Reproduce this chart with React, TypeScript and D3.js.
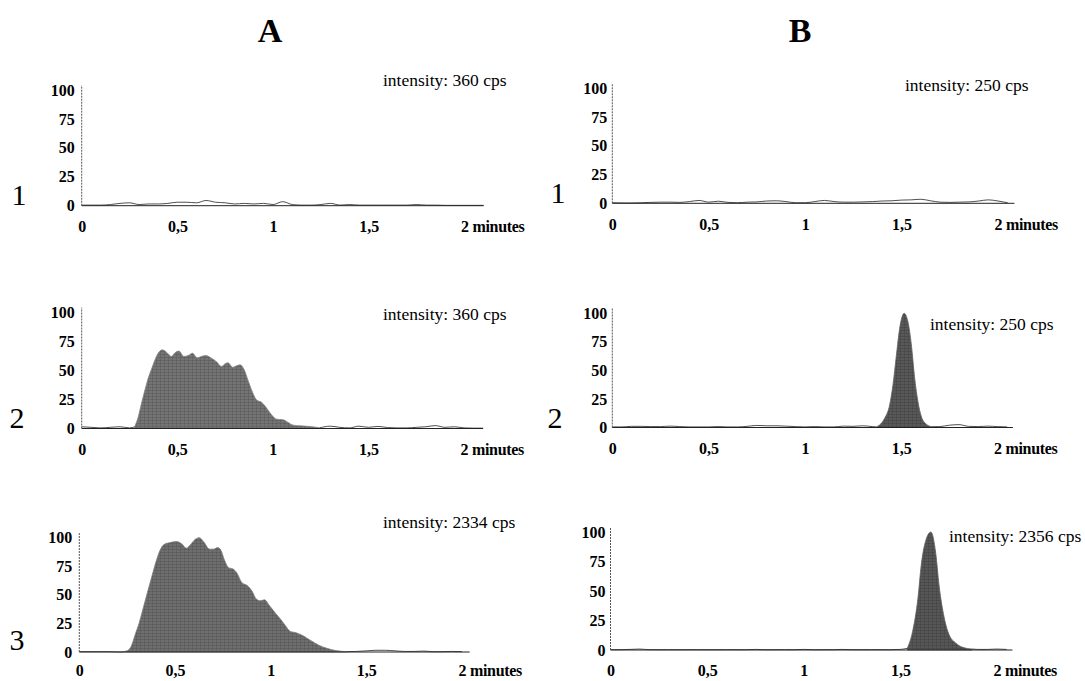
import React, { useEffect, useRef } from 'react';
import * as d3 from 'd3';

// time grid (minutes) shared by the baseline noise traces
const gridTimes = [0, 0.05, 0.1, 0.15, 0.2, 0.25, 0.3, 0.35, 0.4, 0.45, 0.5, 0.55, 0.6, 0.65, 0.7, 0.75, 0.8, 0.85, 0.9, 0.95,
  1, 1.05, 1.1, 1.15, 1.2, 1.25, 1.3, 1.35, 1.4, 1.45, 1.5, 1.55, 1.6, 1.65, 1.7, 1.75, 1.8, 1.85, 1.9, 1.95, 2, 2.05, 2.1];

// baseline noise (% of full scale), null where the peak trace takes over
const noiseA1 = [0.5, 0.5, 0.5, 1, 2, 2.5, 1, 1.5, 1.5, 2, 3, 3, 2.5, 4.5, 3, 2.5, 1.5, 2, 1.5, 2,
  1, 3.5, 1, 0.5, 0.5, 1, 2, 0.5, 1, 0.5, 0.5, 0.5, 0.5, 0.5, 0.5, 1, 0.5, 0.5, 0.3, 0.3, 0.3, 0.3, 0.3];
const noiseB1 = [0.5, 0.3, 0.3, 0.5, 0.8, 1, 1, 0.8, 1.5, 2.5, 1, 1.8, 0.8, 0.5, 1, 1.2, 2, 2.2, 1.5, 0.5,
  0.5, 1.5, 2.5, 1.5, 1, 1, 1.2, 1.5, 2, 2.2, 2.8, 3, 3.5, 2.2, 1, 0.8, 1, 1.2, 2, 3, 2, 0.5, 0.3];
const noiseA2 = [1.5, 1, 0.5, 1, 1.5, 0.5, null, null, null, null, null, null, null, null, null, null, null, null, null, null,
  null, null, null, null, null, null, 2, 1, 0.5, 2, 1, 1.8, 0.8, 0.5, 0.5, 1, 1.5, 2.5, 1, 1.5, 0.5, 0.3, 0.3];
const noiseB2 = [0.5, 0.5, 1, 1, 0.8, 0.8, 1.2, 0.8, 0.5, 0.5, 0.5, 0.8, 0.5, 0.5, 1, 1.8, 1.5, 1.5, 1.2, 0.8,
  0.5, 0.8, 0.5, 0.5, 1.2, 1, 1.5, 0.8, null, null, null, null, null, null, 0.8, 2, 2.5, 1, 0.8, 1.2, 0.8, 0.5, 0.3];
const noiseA3 = [0.3, 0.3, 0.3, 0.3, null, null, null, null, null, null, null, null, null, null, null, null, null, null, null, null,
  null, null, null, null, null, null, null, null, null, 0.5, 1, 1.5, 1.5, 1, 0.5, 0.5, 0.8, 0.3, 0.3, 0.5, 0.3, 0.3, 0.3];
const noiseB3 = [0.3, 0.3, 0.5, 0.8, 0.3, 0.3, 0.3, 0.3, 0.3, 0.3, 0.3, 0.3, 0.3, 0.3, 0.3, 0.5, 0.3, 0.3, 0.3, 0.3,
  0.5, 0.3, 0.3, 0.3, 0.5, 0.3, 0.3, 0.3, 0.3, 0.3, 0.5, null, null, null, null, null, null, null, 0.5, 0.5, 0.8, 0.5, 0.3];

// chromatographic peaks
const peakA2Times = [0.277, 0.295, 0.312, 0.33, 0.347, 0.365, 0.382, 0.4, 0.422, 0.443, 0.47, 0.487, 0.509, 0.534, 0.557, 0.58,
  0.604, 0.626, 0.649, 0.679, 0.708, 0.731, 0.749, 0.766, 0.789, 0.806, 0.827, 0.848, 0.871, 0.894, 0.915, 0.941, 0.967,
  0.993, 1.019, 1.054, 1.08, 1.106, 1.141, 1.194, 1.246];
const peakA2Values = [1.4, 9.5, 21, 32.6, 42.7, 51, 58.5, 64.8, 67.7, 65.7, 62, 65, 66.6, 62, 62.8, 64.8,
  60.8, 62, 62.8, 60.5, 57, 53.3, 55.6, 56.5, 52.7, 53.6, 54.8, 51.3, 41, 31, 24.5, 22.5, 17.6,
  11.8, 8, 7.5, 5.2, 2.9, 2.3, 1.7, 0.6];

const peakA3Times = [0.212, 0.247, 0.274, 0.291, 0.314, 0.335, 0.356, 0.379, 0.401, 0.422, 0.44, 0.474, 0.509, 0.536, 0.559,
  0.58, 0.606, 0.628, 0.649, 0.681, 0.702, 0.723, 0.74, 0.758, 0.781, 0.803, 0.824, 0.85, 0.876, 0.902, 0.925, 0.946,
  0.968, 0.994, 1.024, 1.05, 1.076, 1.102, 1.129, 1.164, 1.207, 1.251, 1.294, 1.346, 1.398];
const peakA3Values = [0, 0.9, 6, 14.7, 26, 39, 52, 66, 79, 89, 93.7, 95.7, 96.6, 94.5, 90.8,
  93.7, 98.6, 100, 96.6, 90, 90, 91.4, 89, 80.7, 73.6, 72.7, 69, 60.6, 58.3, 53.4, 46.3, 44.8,
  45.7, 40.5, 34.2, 29, 23.3, 18, 17, 14.7, 10.3, 6, 3.2, 1.1, 0.3];

const peakB2Times = [1.37, 1.388, 1.414, 1.44, 1.457, 1.475, 1.492, 1.515, 1.535, 1.553, 1.57, 1.587, 1.605, 1.631, 1.657];
const peakB2Values = [0.5, 2.2, 8, 19.7, 37, 63, 86.6, 99.7, 92.4, 72, 43, 22.5, 9.4, 2.8, 0.7];

const peakB3Times = [1.536, 1.563, 1.591, 1.608, 1.63, 1.658, 1.683, 1.7, 1.726, 1.752, 1.786, 1.819, 1.871];
const peakB3Values = [1.4, 15.5, 44, 72, 92, 100, 82, 55, 28, 13, 6, 2.5, 0.8];

const yTicks = [0, 25, 50, 75, 100];
const xTicks = [0, 0.5, 1, 1.5, 2];
const xTickLabels = ['0', '0,5', '1', '1,5', '2 minutes'];
const columnTitles = ['A', 'B'];
const rowTitles = ['1', '2', '3'];
const intensities = ['intensity: 360 cps', 'intensity: 250 cps', 'intensity: 360 cps', 'intensity: 250 cps',
  'intensity: 2334 cps', 'intensity: 2356 cps'];

const serif = '"Liberation Serif", "Times New Roman", serif';

const panels = [
  { noise: noiseA1, pt: [], pv: [], fill: '#737373', x0: 81.7, x2: 464.5, xEnd: 2.1, yB: 205.7, yT: 90, yPad: 7, xPad: 15, text: intensities[0], tx: 383, ty: 86, row: rowTitles[0], rx: 19, ry: 205 },
  { noise: noiseB1, pt: [], pv: [], fill: '#5a5a5a', x0: 612.3, x2: 998, xEnd: 2.085, yB: 203.3, yT: 88.3, yPad: 5, xPad: 15, text: intensities[1], tx: 905, ty: 91, row: rowTitles[0], rx: 558, ry: 203 },
  { noise: noiseA2, pt: peakA2Times, pv: peakA2Values, fill: '#747474', x0: 81.7, x2: 464, xEnd: 2.1, yB: 428.5, yT: 312.3, yPad: 7, xPad: 15, text: intensities[2], tx: 383, ty: 320, row: rowTitles[1], rx: 17, ry: 428 },
  { noise: noiseB2, pt: peakB2Times, pv: peakB2Values, fill: '#585858', x0: 612.3, x2: 997.5, xEnd: 2.08, yB: 427.5, yT: 313, yPad: 5, xPad: 15, text: intensities[3], tx: 930, ty: 330, row: rowTitles[1], rx: 555, ry: 428 },
  { noise: noiseA3, pt: peakA3Times, pv: peakA3Values, fill: '#6e6e6e', x0: 79.3, x2: 462, xEnd: 2.04, yB: 652, yT: 537.7, yPad: 7, xPad: 13, text: intensities[4], tx: 383, ty: 528, row: rowTitles[2], rx: 17, ry: 650 },
  { noise: noiseB3, pt: peakB3Times, pv: peakB3Values, fill: '#565656', x0: 610.5, x2: 997, xEnd: 2.08, yB: 650, yT: 532, yPad: 5, xPad: 15, text: intensities[5], tx: 949, ty: 542, row: null, rx: 0, ry: 0 },
];

function draw(node: SVGSVGElement) {
  const svg = d3.select(node);
  svg.selectAll('*').remove();
  const defs = svg.append('defs');

  svg.selectAll('text.title')
    .data(columnTitles)
    .enter()
    .append('text')
    .attr('class', 'title')
    .attr('x', (d, i) => (i === 0 ? 270 : 800))
    .attr('y', 42)
    .attr('text-anchor', 'middle')
    .attr('font-family', serif)
    .attr('font-weight', 'bold')
    .attr('font-size', 34)
    .text(d => d);

  panels.forEach((p, pi) => {
    const x = d3.scaleLinear().domain([0, 2]).range([p.x0, p.x2]);
    const y = d3.scaleLinear().domain([0, 100]).range([p.yB, p.yT]);
    const g = svg.append('g');

    // scanned-print look: grey fill with a faint crosshatch
    const pat = defs.append('pattern')
      .attr('id', 'fill' + pi)
      .attr('patternUnits', 'userSpaceOnUse')
      .attr('width', 4).attr('height', 3);
    pat.append('rect').attr('width', 4).attr('height', 3).attr('fill', p.fill);
    pat.append('rect').attr('width', 4).attr('height', 1).attr('fill', '#000').attr('opacity', 0.12);
    pat.append('rect').attr('width', 1).attr('height', 3).attr('fill', '#000').attr('opacity', 0.1);

    // trace: noise outside the peak, peak inside
    const pts: [number, number][] = gridTimes
      .map((t, i) => [t, p.noise[i]] as [number, number | null])
      .filter(d => d[1] !== null && d[0] <= p.xEnd) as [number, number][];
    const peak: [number, number][] = p.pt.map((t, i) => [t, p.pv[i]]);
    const line = d3.line<[number, number]>().x(d => x(d[0])).y(d => y(d[1])).curve(d3.curveMonotoneX);

    if (peak.length) {
      const area = d3.area<[number, number]>().x(d => x(d[0])).y0(y(0)).y1(d => y(d[1])).curve(d3.curveMonotoneX);
      g.append('path')
        .attr('d', area(peak))
        .attr('fill', `url(#fill${pi})`)
        .attr('stroke', d3.color(p.fill)!.brighter(0.3).toString())
        .attr('stroke-width', 0.8);
      const before = pts.filter(d => d[0] <= peak[0][0]).concat([peak[0]]);
      const after = [peak[peak.length - 1]].concat(pts.filter(d => d[0] >= peak[peak.length - 1][0]));
      [before, after].forEach(seg => {
        g.append('path').attr('d', line(seg)).attr('fill', 'none').attr('stroke', '#222').attr('stroke-width', 0.8);
      });
    } else {
      g.append('path').attr('d', line(pts)).attr('fill', 'none').attr('stroke', '#222').attr('stroke-width', 0.8);
    }

    // axes
    g.append('line')
      .attr('x1', x(0)).attr('x2', x(p.xEnd))
      .attr('y1', y(0)).attr('y2', y(0))
      .attr('stroke', '#222').attr('stroke-width', 1);
    g.append('line')
      .attr('x1', x(0)).attr('x2', x(0))
      .attr('y1', y(0)).attr('y2', y(104))
      .attr('stroke', '#555').attr('stroke-width', 1)
      .attr('stroke-dasharray', '2,1');

    const yAxis = g.append('g')
      .attr('transform', `translate(${x(0)},0)`)
      .call(d3.axisLeft(y).tickValues(yTicks).tickSize(0).tickPadding(p.yPad));
    yAxis.select('.domain').remove();

    const xAxis = g.append('g')
      .attr('transform', `translate(0,${y(0)})`)
      .call(d3.axisBottom(x).tickValues(xTicks).tickSize(0).tickPadding(p.xPad)
        .tickFormat((d, i) => xTickLabels[i]));
    xAxis.select('.domain').remove();
    xAxis.selectAll('text')
      .filter((d, i) => i === xTicks.length - 1)
      .attr('text-anchor', 'start')
      .attr('x', -4)
      .attr('letter-spacing', -0.3);

    [yAxis, xAxis].forEach(a => {
      a.attr('font-family', serif).attr('font-size', 16).attr('font-weight', 'bold');
      a.selectAll('text').attr('fill', '#000');
    });

    g.append('text')
      .attr('x', p.tx).attr('y', p.ty)
      .attr('font-family', serif).attr('font-size', 17.5)
      .text(p.text);

    if (p.row) {
      g.append('text')
        .attr('x', p.rx).attr('y', p.ry)
        .attr('text-anchor', 'middle')
        .attr('font-family', serif).attr('font-size', 30)
        .text(p.row);
    }
  });
}

export default function App() {
  const ref = useRef<SVGSVGElement>(null);
  useEffect(() => {
    if (ref.current) draw(ref.current);
  }, []);
  return (
    <svg ref={ref} width={1085} height={681}
      style={{ position: 'absolute', left: 0, top: 0, background: '#fff' }} />
  );
}
